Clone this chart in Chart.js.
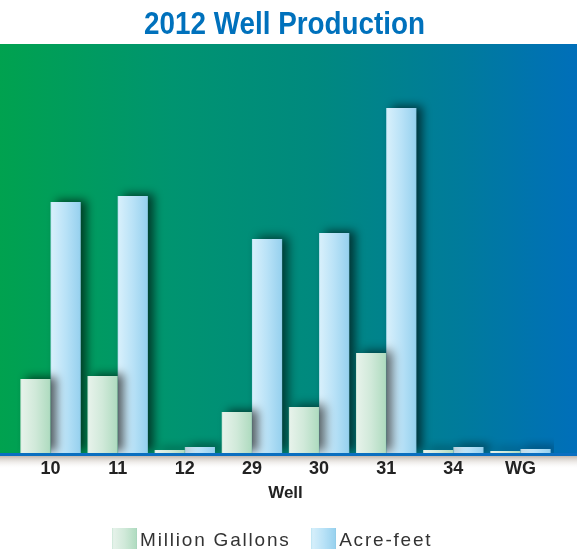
<!DOCTYPE html>
<html>
<head>
<meta charset="utf-8">
<script src="https://cdn.jsdelivr.net/npm/chart.js@4.4.1/dist/chart.umd.min.js"></script>
<style>
    html, body { margin: 0; padding: 0; background: #fff; }
    #wrap { position: relative; width: 577px; height: 549px; overflow: hidden; }
    #title {
        position: absolute; left: -4px; top: 4px; width: 577px;
        text-align: center;
    }
    #title span {
        display: inline-block; color: #0071bc;
        font-family: "Liberation Sans", Arial, sans-serif;
        font-weight: bold; font-size: 32px; line-height: 38px;
        transform: scaleX(0.87); transform-origin: center;
    }
    canvas { position: absolute; left: 0; top: 0; }
</style>
</head>
<body>
<div id="wrap">
    <canvas id="wellChart" width="577" height="549"></canvas>
    <div id="title"><span>2012 Well Production</span></div>
</div>
<script>
// ==================== DATOS ====================
const wells = ['10', '11', '12', '29', '30', '31', '34', 'WG'];
const millionGallons = [74, 77, 3, 41, 46, 100, 3, 2];
const acreFeet = [251, 257, 6, 214, 220, 345, 6, 4];
const yMax = 409;

const CAT_PCT = 0.9;
const LETTER_SPACING = '1.8px';

// ==================== GRADIENTES ====================
const mgStops = [[0, '#c4e4d2'], [0.05, '#e6f2ea'], [0.5, '#d0e9d9'], [0.95, '#b1dcc1'], [1, '#a3d3bb']];
const afStops = [[0, '#b5e2f1'], [0.05, '#d6effb'], [0.5, '#b9e2f7'], [0.95, '#99d2ef'], [1, '#8dc9e4']];

function hGradient(ctx, x0, x1, stops) {
    const g = ctx.createLinearGradient(x0, 0, x1, 0);
    stops.forEach(s => g.addColorStop(s[0], s[1]));
    return g;
}

function legendSwatch(stops) {
    const c = document.createElement('canvas');
    c.width = 25;
    c.height = 25;
    const cx = c.getContext('2d');
    cx.fillStyle = hGradient(cx, 0, 25, stops);
    cx.fillRect(0, 0, 25, 25);
    return c;
}

function barFill(stops, side) {
    return function(context) {
        const chart = context.chart;
        const xs = chart.scales && chart.scales.x;
        if (!xs || !chart.chartArea) return stops[2][1];
        const center = xs.getPixelForValue(context.dataIndex);
        const w = (xs.width / wells.length) * CAT_PCT / 2;
        const x0 = side === 0 ? center - w : center;
        return hGradient(chart.ctx, x0, x0 + w, stops);
    };
}

// ==================== PLUGIN DE FONDO ====================
const backdrop = {
    id: 'backdrop',
    beforeLayout(chart) {
        chart.ctx.letterSpacing = LETTER_SPACING;
    },
    afterLayout(chart) {
        chart.ctx.letterSpacing = '0px';
        // la leyenda va un poco a la izquierda en el original
        if (chart.legend) {
            chart.legend.left -= 10;
            chart.legend.right -= 10;
        }
    },
    beforeDraw(chart) {
        const ctx = chart.ctx;
        const area = chart.chartArea;
        const w = chart.width;
        ctx.save();
        ctx.letterSpacing = '0px';
        const bg = ctx.createLinearGradient(0, 0, w, 0);
        bg.addColorStop(0, '#00a24f');
        bg.addColorStop(0.3, '#009470');
        bg.addColorStop(0.55, '#00897f');
        bg.addColorStop(0.8, '#007b9c');
        bg.addColorStop(1, '#006fba');
        ctx.fillStyle = bg;
        ctx.fillRect(0, area.top, w, area.bottom - area.top);

        // sombra bajo la línea base
        const sh = ctx.createLinearGradient(0, area.bottom + 3, 0, area.bottom + 16);
        sh.addColorStop(0, 'rgba(120, 100, 80, 0.45)');
        sh.addColorStop(1, 'rgba(255, 255, 255, 0)');
        ctx.fillStyle = sh;
        ctx.fillRect(0, area.bottom + 3, w, 13);

        // línea base
        ctx.fillStyle = '#0a6fc0';
        ctx.fillRect(0, area.bottom, w, 3);
        ctx.restore();
        ctx.letterSpacing = LETTER_SPACING;
    },
    beforeDatasetsDraw(chart) {
        const ctx = chart.ctx;
        ctx.letterSpacing = '0px';
        ctx.save();
        ctx.shadowColor = 'rgba(0, 0, 0, 0.6)';
        ctx.shadowBlur = 10;
        ctx.shadowOffsetX = 6;
        ctx.shadowOffsetY = -2;
    },
    afterDatasetsDraw(chart) {
        chart.ctx.restore();
    }
};

// ==================== GRÁFICO ====================
Chart.defaults.font.family = "'Liberation Sans', Arial, sans-serif";
Chart.defaults.color = '#222';

const ctx = document.getElementById('wellChart').getContext('2d');
const wellChart = new Chart(ctx, {
    type: 'bar',
    data: {
        labels: wells,
        datasets: [{
            label: 'Million Gallons',
            data: millionGallons,
            backgroundColor: barFill(mgStops, 0),
            pointStyle: legendSwatch(mgStops),
            borderWidth: 0
        }, {
            label: 'Acre-feet',
            data: acreFeet,
            backgroundColor: barFill(afStops, 1),
            pointStyle: legendSwatch(afStops),
            borderWidth: 0
        }]
    },
    options: {
        responsive: false,
        animation: false,
        devicePixelRatio: 1,
        layout: {
            padding: { top: 44, left: 17, right: 23, bottom: -11 }
        },
        datasets: {
            bar: {
                categoryPercentage: CAT_PCT,
                barPercentage: 1
            }
        },
        plugins: {
            legend: {
                position: 'bottom',
                labels: {
                    usePointStyle: true,
                    pointStyleWidth: 12,
                    padding: 27,
                    color: '#333',
                    font: { size: 19 }
                }
            },
            tooltip: { enabled: false },
            title: { display: false }
        },
        scales: {
            x: {
                grid: { display: false, z: 1 },
                border: { display: false },
                ticks: {
                    z: 1,
                    padding: -3,
                    color: '#222',
                    font: { size: 18, weight: 'bold' }
                },
                title: {
                    display: true,
                    text: 'Well',
                    color: '#222',
                    font: { size: 17, weight: 'bold' },
                    padding: { top: 7, bottom: 0 }
                }
            },
            y: {
                display: false,
                min: 0,
                max: yMax
            }
        }
    },
    plugins: [backdrop]
});
</script>
</body>
</html>
